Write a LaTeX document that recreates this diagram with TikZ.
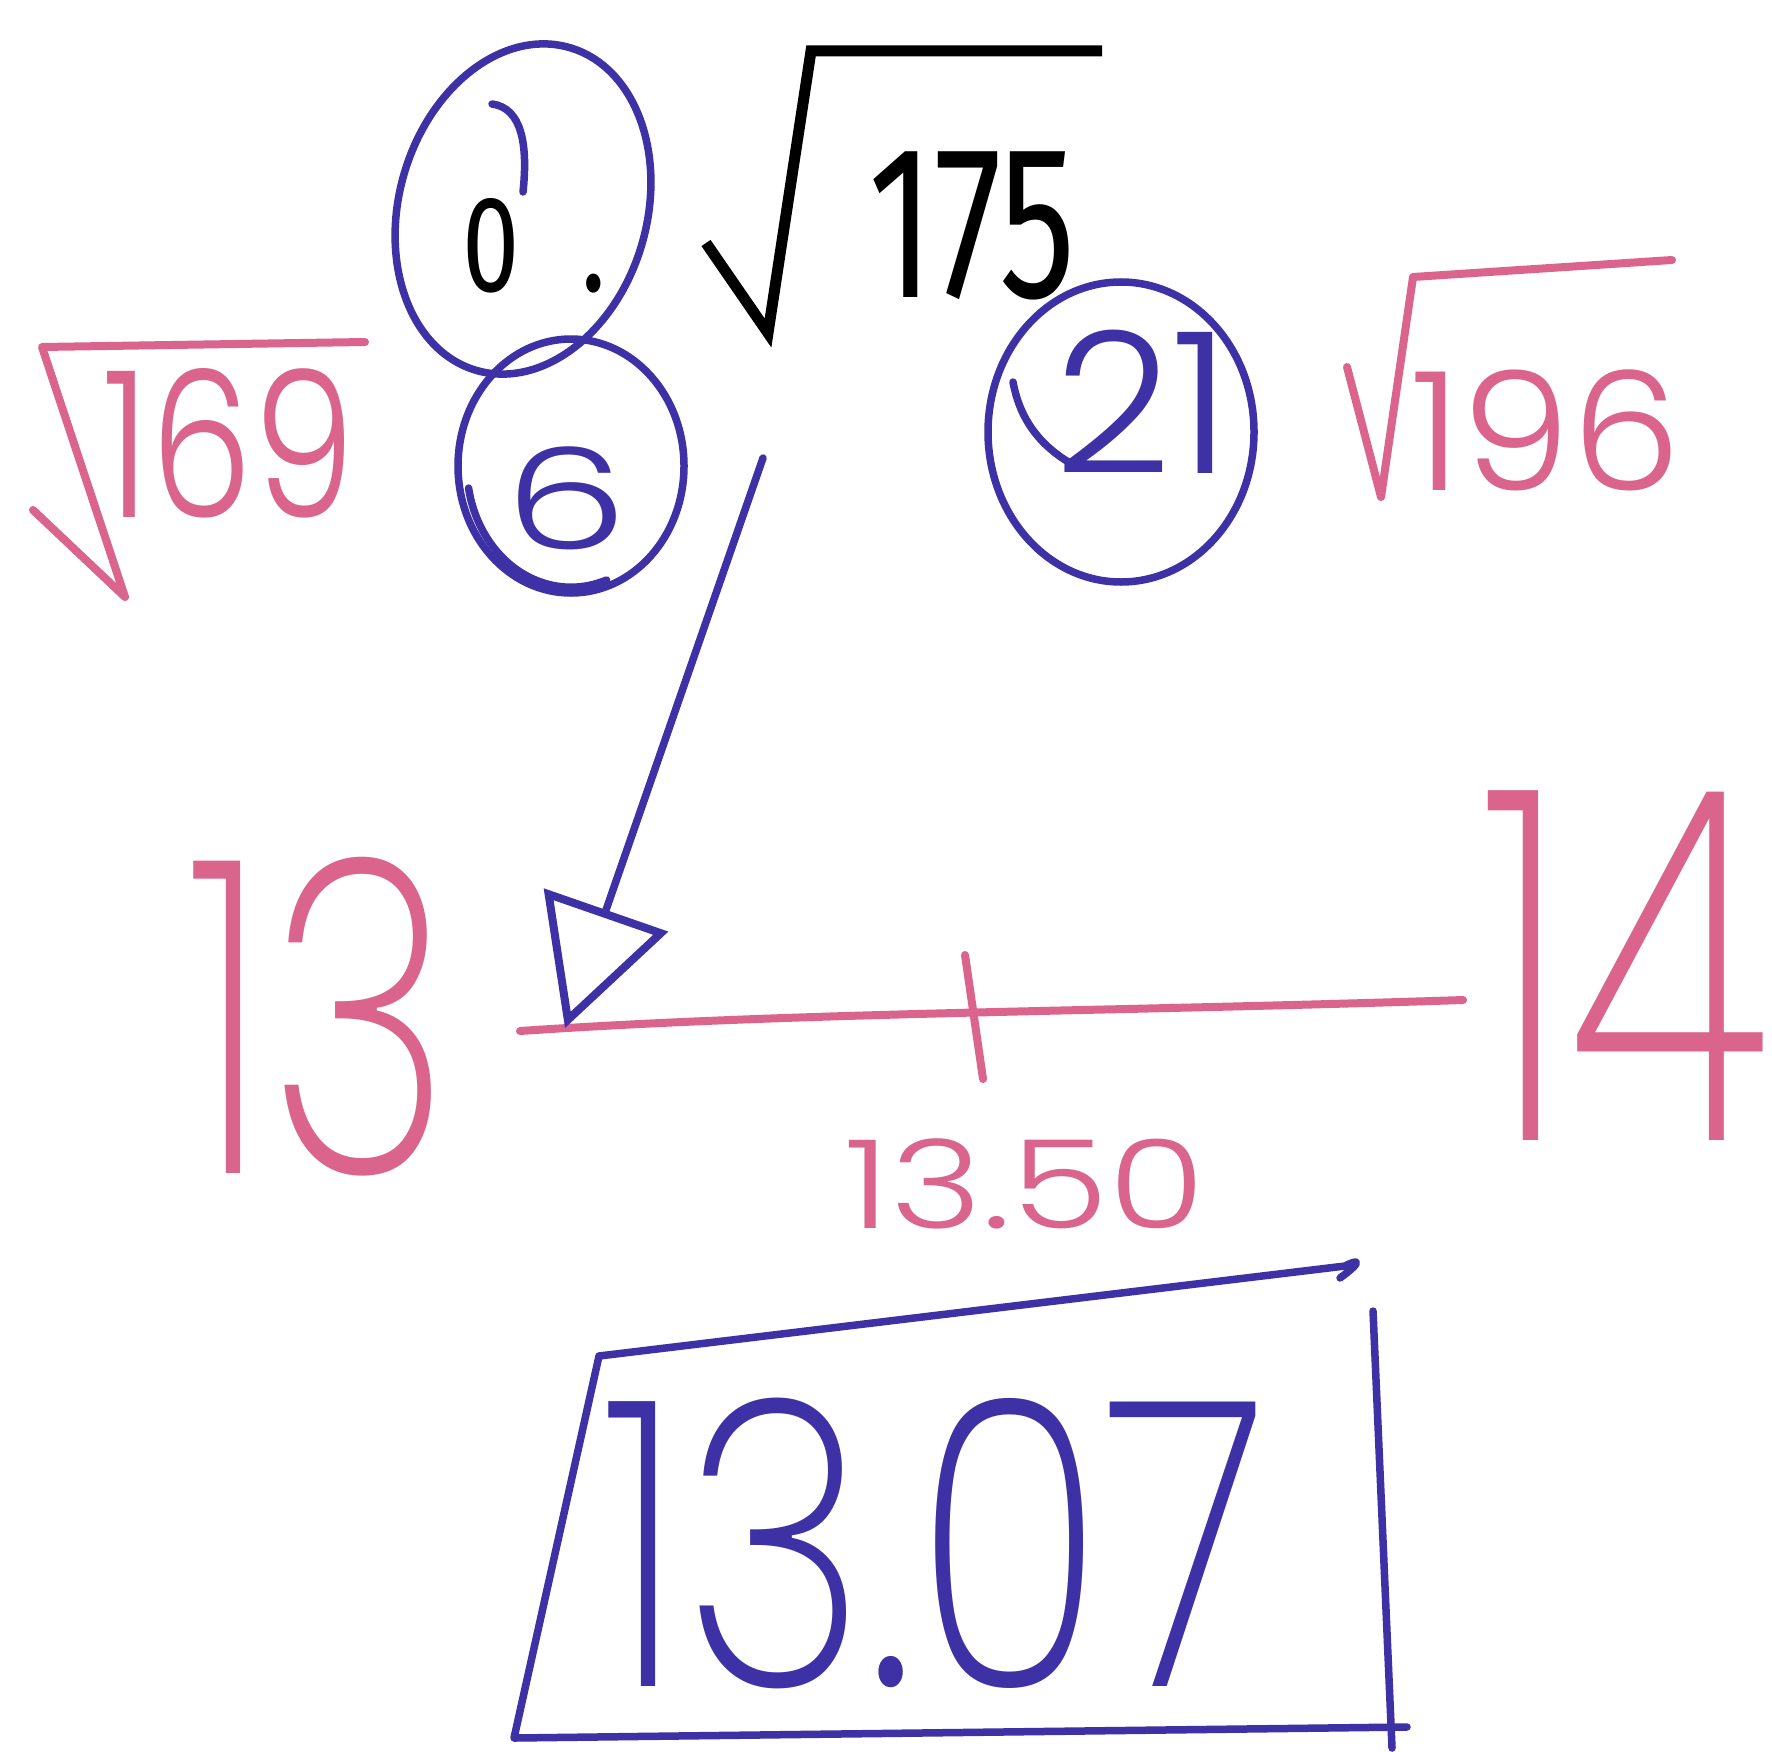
\documentclass[tikz,border=0pt]{standalone}
\usepackage{fontspec}
\IfFontExistsTF{Poppins ExtraLight}{\newfontfamily\handfont{Poppins ExtraLight}}{%
  \newfontfamily\handfont{Poppins Thin}}
\IfFontExistsTF{Poppins Light}{\newfontfamily\smallhand{Poppins Light}}{%
  \newfontfamily\smallhand{Poppins Thin}}
\newfontfamily\printfont{Fira Sans}
\usetikzlibrary{arrows.meta}
\definecolor{redpen}{RGB}{218,100,140}
\definecolor{bluepen}{RGB}{62,48,165}

\begin{document}
\begin{tikzpicture}[x=0.1mm,y=-0.1mm,
  pink/.style={redpen,line width=0.8mm,line cap=round,line join=round},
  ink/.style={bluepen,line width=0.75mm,line cap=round,line join=round},
  hand/.style={inner sep=0pt,font=\handfont\fontsize{#1}{#1}\selectfont},
  small hand/.style={inner sep=0pt,font=\smallhand\fontsize{#1}{#1}\selectfont},
  print/.style={inner sep=0pt,font=\printfont\fontsize{#1}{#1}\selectfont}]
\useasboundingbox[fill=white] (0,0) rectangle (1772,1751);
\draw[black,line width=1.1mm,line join=miter] (706,243) -- (768,333) -- (811,51) -- (1102,51);
\node[print=39,xscale=0.75] (zero) at (534,246) {0\kern0.6em.};
\node[print=62,xscale=0.7] (n175) at (972,226) {175};
\draw[ink,rotate around={-16:(523,209)}] (523,209) ellipse [x radius=124,y radius=168];
\draw[ink] (523,192) .. controls (528,145) and (522,108) .. (492,104);
\draw[ink] (571,466) ellipse [x radius=113,y radius=127];
\draw[ink] (571,470) ++(170:104) arc [start angle=170,end angle=70,x radius=104,y radius=120];
\node[small hand=40,bluepen,xscale=1.4] (six) at (566,498) {6};
\draw[ink] (1121,432) ellipse [x radius=133,y radius=150];
\draw[ink] (1013,382) .. controls (1020,420) and (1040,445) .. (1070,463);
\node[small hand=56,bluepen,xscale=1.04] (twentyone) at (1143,402) {21};
\draw[pink] (33,510) -- (125,597) -- (42,347) -- (365,342);
\node[small hand=58,redpen,xscale=0.8] (n169) at (229,443) {169};
\draw[pink] (1347,367) -- (1381,497) -- (1413,277) -- (1672,260);
\node[small hand=47,redpen,xscale=1.06] (n196) at (1546,430) {196};
\node[hand=125,redpen,xscale=0.72] (n13) at (319,1017) {13};
\node[hand=140,redpen,xscale=0.69] (n14) at (1625,966) {14};
\coordinate (lineL) at (520,1031);
\coordinate (lineR) at (1463,1000);
\coordinate (tickT) at (965,955);
\coordinate (tickB) at (983,1079);
\draw[pink] (lineL) .. controls (800,1012) and (1100,1012) .. (lineR);
\draw[pink] (tickT) -- (tickB);
\node[small hand=35,redpen,xscale=1.28] (half) at (1025,1184) {13.50};
\coordinate (tail) at (763,458);
\coordinate (tip) at (565,1028);
\draw[ink,-{Triangle[open,length=12.5mm,width=13mm,line width=0.8mm]}] (tail) -- (tip);
\draw[ink] (1340,1278) .. controls (1362,1262) and (1360,1258) .. (1345,1266) -- (599,1356) -- (514,1738) -- (1407,1727);
\draw[ink] (1373,1311) -- (1392,1748);
\node[hand=114,bluepen,xscale=0.79] (ans) at (935,1543) {13.07};
\end{tikzpicture}
\end{document}
